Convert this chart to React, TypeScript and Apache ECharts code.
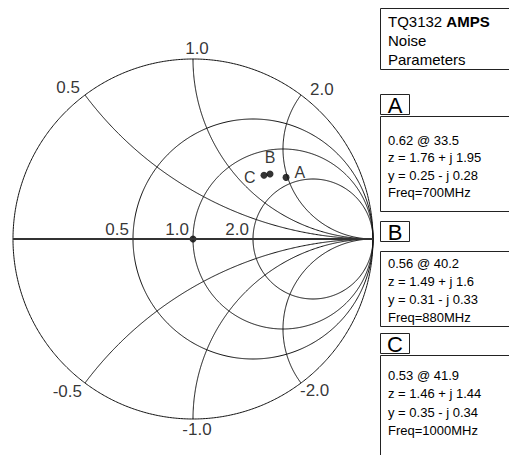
import React, { useEffect, useRef } from 'react';
import * as echarts from 'echarts';

// ---- data ----
const resistanceValues = [0, 0.5, 1, 2];
const reactanceValues = [0.5, 1, 2, -0.5, -1, -2];
const matchedResistance = 1; // dot at z = 1 (chart centre)
const pointNames = ['A', 'B', 'C'];
const pointMagnitudes = [0.62, 0.56, 0.53];
const pointAnglesDeg = [33.5, 40.2, 41.9];
const pointImpedances = ['z = 1.76 + j 1.95', 'z = 1.49 + j 1.6', 'z = 1.46 + j 1.44'];
const pointAdmittances = ['y = 0.25 - j 0.28', 'y = 0.31 - j 0.33', 'y = 0.35 - j 0.34'];
const pointFrequencies = ['Freq=700MHz', 'Freq=880MHz', 'Freq=1000MHz'];
const titleLines = ['TQ3132 {b|AMPS}', 'Noise', 'Parameters'];

// ---- layout / style ----
const FONT = '"Liberation Sans", Arial, Helvetica, sans-serif';
const CX = 193;
const CY = 239;
const R = 180;
const BOX_X = 380.5;
const BOX_W = 140;
const TEXT_X = 388;
const titleBox = { y: 8.5, h: 61, first: 12.5, step: 19.2 };
const pointBoxes = [
  { labelY: 94.5, contentY: 116.5, contentH: 95, first: 23.5, step: 17.6 },
  { labelY: 221.5, contentY: 251.5, contentH: 75, first: 12, step: 18 },
  { labelY: 333.5, contentY: 355.5, contentH: 110, first: 20, step: 18.3 },
];
const pointLabelPos: any[] = [
  { position: 'right', offset: [0, -5] },
  { position: 'top', offset: [0, 0] },
  { position: 'left', offset: [0, 2] },
];

function gamma(r: number, x: number): number[] {
  const d = (r + 1) * (r + 1) + x * x;
  return [(r * r - 1 + x * x) / d, (2 * x) / d];
}

function resistanceCircle(r: number): number[][] {
  const c = r / (1 + r);
  const rad = 1 / (1 + r);
  const pts: number[][] = [];
  for (let i = 0; i <= 720; i++) {
    const a = (i / 720) * Math.PI * 2;
    pts.push([c + rad * Math.cos(a), rad * Math.sin(a)]);
  }
  return pts;
}

function reactanceArc(x: number): number[][] {
  const pts: number[][] = [];
  const n = 600;
  for (let i = 0; i < n; i++) {
    const r = Math.tan((i / n) * (Math.PI / 2));
    pts.push(gamma(r, x));
  }
  pts.push([1, 0]);
  return pts;
}

function reactLabelPlacement(x: number): any {
  const g = gamma(0, x);
  if (g[0] < -0.1) return { position: 'left', offset: x > 0 ? [0, -8] : [2, 8] };
  if (g[0] > 0.1) return { position: 'right', offset: x > 0 ? [4, -6] : [-6, 7] };
  return x > 0 ? { position: 'top', offset: [4, 3] } : { position: 'bottom', offset: [4, -3] };
}

export default function App() {
  const ref = useRef<HTMLDivElement>(null);

  useEffect(() => {
    if (!ref.current) return;
    const chart = echarts.init(ref.current, null, { renderer: 'svg' });

    const series: any[] = [];
    resistanceValues.forEach((r) => {
      series.push({
        type: 'line',
        data: resistanceCircle(r),
        showSymbol: false,
        smooth: false,
        silent: true,
        clip: false,
        lineStyle: { color: '#111', width: 1 },
      });
    });
    reactanceValues.forEach((x) => {
      series.push({
        type: 'line',
        data: reactanceArc(x),
        showSymbol: false,
        silent: true,
        clip: false,
        lineStyle: { color: '#111', width: 1 },
      });
    });
    // real axis (x = 0)
    series.push({
      type: 'line',
      data: reactanceArc(0),
      showSymbol: false,
      silent: true,
      clip: false,
      lineStyle: { color: '#333', width: 2 },
    });
    // reactance labels on the rim
    series.push({
      type: 'scatter',
      symbolSize: 0,
      silent: true,
      data: reactanceValues.map((x) => ({
        value: gamma(0, x),
        label: { show: true, formatter: x.toFixed(1), ...reactLabelPlacement(x) },
      })),
      label: { color: '#000', fontSize: 17, fontFamily: FONT },
    });
    // resistance labels on the real axis
    series.push({
      type: 'scatter',
      symbolSize: 0,
      silent: true,
      data: resistanceValues
        .filter((r) => r > 0)
        .map((r) => ({
          value: gamma(r, 0),
          label: { show: true, formatter: r.toFixed(1), position: 'left', offset: [1, -10] },
        })),
      label: { color: '#000', fontSize: 17, fontFamily: FONT },
    });
    // matched point dot
    series.push({
      type: 'scatter',
      symbol: 'circle',
      symbolSize: 7,
      silent: true,
      itemStyle: { color: '#000' },
      data: [gamma(matchedResistance, 0)],
    });
    // noise points
    series.push({
      type: 'scatter',
      symbol: 'circle',
      symbolSize: 7,
      silent: true,
      itemStyle: { color: '#000' },
      label: { show: true, color: '#000', fontSize: 16, fontFamily: FONT },
      data: pointNames.map((name, i) => {
        const a = (pointAnglesDeg[i] * Math.PI) / 180;
        return {
          name,
          value: [pointMagnitudes[i] * Math.cos(a), pointMagnitudes[i] * Math.sin(a)],
          label: { formatter: name, ...pointLabelPos[i] },
        };
      }),
    });

    const graphics: any[] = [];
    graphics.push({
      type: 'rect',
      shape: { x: BOX_X, y: titleBox.y, width: BOX_W, height: titleBox.h },
      style: { fill: '#fff', stroke: '#222', lineWidth: 1 },
    });
    titleLines.forEach((t, i) => {
      graphics.push({
        type: 'text',
        x: TEXT_X,
        y: titleBox.y + titleBox.first + i * titleBox.step,
        style: {
          text: t,
          fontSize: 15,
          fontFamily: FONT,
          fill: '#000',
          verticalAlign: 'middle',
          rich: { b: { fontSize: 15, fontFamily: FONT, fontWeight: 'bold', fill: '#000' } },
        },
      });
    });
    pointNames.forEach((name, i) => {
      const b = pointBoxes[i];
      graphics.push({
        type: 'rect',
        shape: { x: BOX_X, y: b.labelY, width: 29, height: 20 },
        style: { fill: '#fff', stroke: '#222', lineWidth: 1 },
      });
      graphics.push({
        type: 'text',
        x: BOX_X + 14.5,
        y: b.labelY + 10.5,
        style: {
          text: name,
          fontSize: 22,
          fontFamily: FONT,
          fill: '#000',
          align: 'center',
          verticalAlign: 'middle',
        },
      });
      graphics.push({
        type: 'rect',
        shape: { x: BOX_X, y: b.contentY, width: BOX_W, height: b.contentH },
        style: { fill: '#fff', stroke: '#222', lineWidth: 1 },
      });
      const lines = [
        `${pointMagnitudes[i].toFixed(2)} @ ${pointAnglesDeg[i].toFixed(1)}`,
        pointImpedances[i],
        pointAdmittances[i],
        pointFrequencies[i],
      ];
      lines.forEach((t, j) => {
        graphics.push({
          type: 'text',
          x: TEXT_X,
          y: b.contentY + b.first + j * b.step,
          style: { text: t, fontSize: 13, fontFamily: FONT, fill: '#000', verticalAlign: 'middle' },
        });
      });
    });

    chart.setOption({
      animation: false,
      backgroundColor: '#fff',
      grid: { left: CX - R, top: CY - R, width: 2 * R, height: 2 * R },
      xAxis: { type: 'value', min: -1, max: 1, show: false },
      yAxis: { type: 'value', min: -1, max: 1, show: false },
      series,
      graphic: graphics,
    });

    return () => chart.dispose();
  }, []);

  return (
    <div
      ref={ref}
      style={{ position: 'absolute', left: 0, top: 0, width: 509, height: 455, background: '#fff' }}
    />
  );
}
